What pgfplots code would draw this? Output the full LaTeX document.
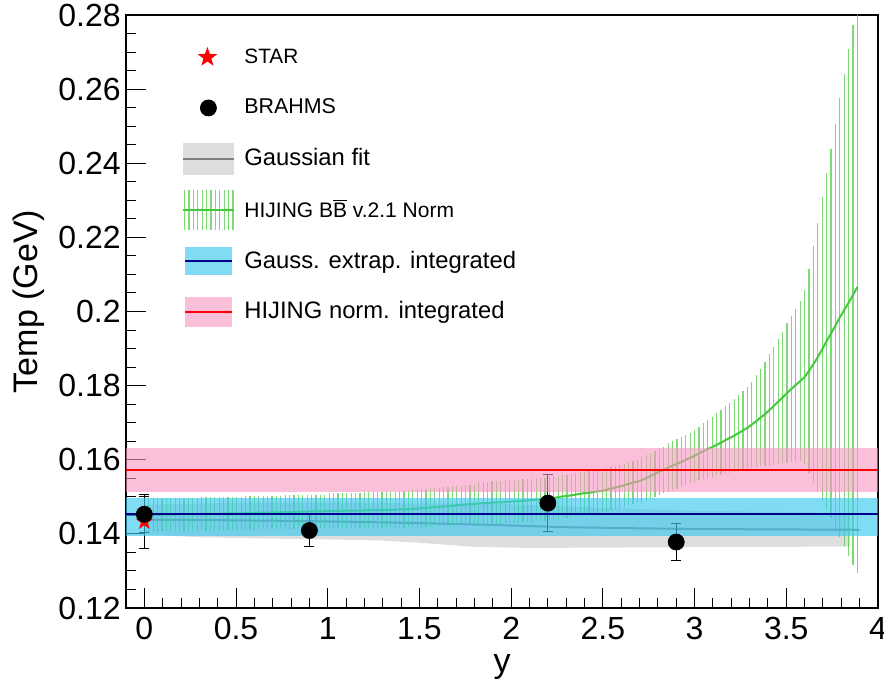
\documentclass[border=0pt]{standalone}
\usepackage{pgfplots}
\pgfplotsset{compat=1.18}
\usepackage{fontspec}
\setmainfont{Liberation Sans}
\usetikzlibrary{plotmarks}

\definecolor{gaussband}{RGB}{222,222,222}
\definecolor{gaussline}{RGB}{128,128,128}
\definecolor{hijgreen}{RGB}{70,200,60}
\definecolor{extrapfill}{RGB}{60,200,240}
\definecolor{extrapline}{RGB}{0,0,140}
\definecolor{normfill}{RGB}{248,150,192}
\definecolor{normline}{RGB}{255,0,0}

% filled five-point star (ROOT marker 29)
\pgfdeclareplotmark{fstar}{%
  \pgfpathmoveto{\pgfpointpolar{90}{\pgfplotmarksize}}%
  \pgfpathlineto{\pgfpointpolar{126}{0.4\pgfplotmarksize}}%
  \pgfpathlineto{\pgfpointpolar{162}{\pgfplotmarksize}}%
  \pgfpathlineto{\pgfpointpolar{198}{0.4\pgfplotmarksize}}%
  \pgfpathlineto{\pgfpointpolar{234}{\pgfplotmarksize}}%
  \pgfpathlineto{\pgfpointpolar{270}{0.4\pgfplotmarksize}}%
  \pgfpathlineto{\pgfpointpolar{306}{\pgfplotmarksize}}%
  \pgfpathlineto{\pgfpointpolar{342}{0.4\pgfplotmarksize}}%
  \pgfpathlineto{\pgfpointpolar{18}{\pgfplotmarksize}}%
  \pgfpathlineto{\pgfpointpolar{54}{0.4\pgfplotmarksize}}%
  \pgfpathclose\pgfusepathqfill}

\pgfplotstableread{
x y e
0.024 0.1451 0.0045
0.048 0.1451 0.0045
0.072 0.1451 0.0045
0.096 0.1452 0.0045
0.120 0.1452 0.0045
0.144 0.1452 0.0045
0.168 0.1452 0.0045
0.192 0.1453 0.0045
0.216 0.1453 0.0045
0.240 0.1453 0.0045
0.264 0.1453 0.0045
0.288 0.1453 0.0045
0.312 0.1454 0.0045
0.336 0.1454 0.0045
0.360 0.1454 0.0045
0.384 0.1454 0.0045
0.408 0.1454 0.0045
0.432 0.1455 0.0045
0.456 0.1455 0.0045
0.480 0.1455 0.0045
0.504 0.1455 0.0045
0.528 0.1455 0.0045
0.552 0.1456 0.0045
0.576 0.1456 0.0045
0.600 0.1456 0.0045
0.624 0.1457 0.0045
0.648 0.1457 0.0045
0.672 0.1457 0.0045
0.696 0.1458 0.0045
0.720 0.1458 0.0045
0.744 0.1458 0.0045
0.768 0.1459 0.0045
0.792 0.1459 0.0045
0.816 0.1459 0.0045
0.840 0.1460 0.0045
0.864 0.1460 0.0045
0.888 0.1460 0.0045
0.912 0.1461 0.0045
0.936 0.1461 0.0045
0.960 0.1461 0.0045
0.984 0.1461 0.0045
1.008 0.1462 0.0047
1.032 0.1462 0.0047
1.056 0.1462 0.0047
1.080 0.1462 0.0047
1.104 0.1463 0.0047
1.128 0.1463 0.0047
1.152 0.1463 0.0047
1.176 0.1463 0.0047
1.200 0.1463 0.0049
1.224 0.1464 0.0049
1.248 0.1464 0.0049
1.272 0.1464 0.0049
1.296 0.1464 0.0049
1.320 0.1465 0.0049
1.344 0.1465 0.0049
1.368 0.1465 0.0049
1.392 0.1466 0.0049
1.416 0.1466 0.0049
1.440 0.1467 0.0049
1.464 0.1467 0.0052
1.488 0.1468 0.0052
1.512 0.1469 0.0052
1.536 0.1470 0.0052
1.560 0.1471 0.0052
1.584 0.1472 0.0052
1.608 0.1473 0.0052
1.632 0.1474 0.0052
1.656 0.1475 0.0052
1.680 0.1476 0.0052
1.704 0.1477 0.0052
1.728 0.1478 0.0052
1.752 0.1479 0.0052
1.776 0.1480 0.0052
1.800 0.1481 0.0052
1.824 0.1482 0.0058
1.848 0.1483 0.0058
1.872 0.1483 0.0058
1.896 0.1484 0.0058
1.920 0.1485 0.0058
1.944 0.1485 0.0058
1.968 0.1486 0.0058
1.992 0.1487 0.0058
2.016 0.1488 0.0058
2.040 0.1488 0.0058
2.064 0.1489 0.0058
2.088 0.1490 0.0058
2.112 0.1491 0.0058
2.136 0.1492 0.0058
2.160 0.1493 0.0058
2.184 0.1494 0.0058
2.208 0.1496 0.0058
2.232 0.1497 0.0058
2.256 0.1499 0.0058
2.280 0.1501 0.0058
2.304 0.1502 0.0058
2.328 0.1504 0.0058
2.352 0.1506 0.0058
2.376 0.1508 0.0058
2.400 0.1510 0.0058
2.424 0.1511 0.0058
2.448 0.1513 0.0058
2.472 0.1515 0.0058
2.496 0.1516 0.0058
2.520 0.1519 0.0058
2.544 0.1522 0.0058
2.568 0.1525 0.0058
2.592 0.1528 0.0058
2.616 0.1531 0.0058
2.640 0.1535 0.0058
2.664 0.1538 0.0058
2.688 0.1541 0.0058
2.712 0.1545 0.0062
2.736 0.1550 0.0062
2.760 0.1556 0.0062
2.784 0.1562 0.0062
2.808 0.1568 0.0062
2.832 0.1573 0.0062
2.856 0.1579 0.0067
2.880 0.1584 0.0067
2.904 0.1589 0.0067
2.928 0.1594 0.0067
2.952 0.1600 0.0067
2.976 0.1605 0.0067
3.000 0.1611 0.0070
3.024 0.1617 0.0072
3.048 0.1623 0.0075
3.072 0.1629 0.0078
3.096 0.1634 0.0082
3.120 0.1640 0.0085
3.144 0.1646 0.0088
3.168 0.1653 0.0091
3.192 0.1659 0.0094
3.216 0.1665 0.0098
3.240 0.1672 0.0102
3.264 0.1679 0.0106
3.288 0.1686 0.0110
3.312 0.1695 0.0116
3.336 0.1704 0.0124
3.360 0.1714 0.0132
3.384 0.1723 0.0141
3.408 0.1734 0.0150
3.432 0.1745 0.0160
3.456 0.1757 0.0168
3.480 0.1768 0.0177
3.504 0.1780 0.0189
3.528 0.1791 0.0198
3.552 0.1802 0.0206
3.576 0.1812 0.0216
3.600 0.1823 0.0235
3.624 0.1840 0.0275
3.648 0.1858 0.0320
3.672 0.1877 0.0362
3.696 0.1898 0.0410
3.720 0.1920 0.0455
3.744 0.1941 0.0498
3.768 0.1962 0.0545
3.792 0.1984 0.0592
3.816 0.2004 0.0638
3.840 0.2024 0.0683
3.864 0.2045 0.0728
3.888 0.2066 0.0772
}\hijing

\begin{document}
\begin{tikzpicture}
\useasboundingbox (-63pt,-38pt) rectangle (379pt,304pt);
\begin{axis}[
  scale only axis, width=376pt, height=296.5pt,
  xmin=-0.1, xmax=4, ymin=0.12, ymax=0.28,
  xtick={0,0.5,...,4},
  ytick={0.12,0.14,0.16,0.18,0.2,0.22,0.24,0.26,0.28},
  minor x tick num=4, minor y tick num=3,
  tick align=inside, tick pos=left,
  major tick length=10pt, minor tick length=5pt,
  scaled ticks=false,
  /pgf/number format/assume math mode=true,
  ticklabel style={font=\fontsize{16}{16}\selectfont},
  yticklabel style={inner sep=0pt, xshift=-2.5pt},
  xticklabel style={inner sep=0pt, yshift=-4.5pt},
  xlabel={y}, ylabel={Temp (GeV)},
  label style={font=\fontsize{17}{17}\selectfont},
  xlabel style={at={(axis description cs:0.5,-0.108)}, anchor=base},
  ylabel style={at={(axis description cs:-0.13,0.517)}, anchor=center},
  axis line style={line width=0.6pt},
  every tick/.style={black, line width=0.5pt},
  legend cell align=left,
  legend style={at={(axis description cs:0.0745,0.963)}, anchor=north west,
    draw=none, fill=none, inner sep=0pt, row sep=5.3pt,
    font=\fontsize{11.9}{13}\selectfont},
]
% legend entries
\addlegendimage{legend image code/.code={
  \path[draw=none] (0pt,-10pt) rectangle (28pt,10pt);
  \draw[only marks, mark=fstar, mark size=5.2pt, red] plot coordinates {(12pt,0pt)};}}
\addlegendentry{\fontsize{10.4}{12}\selectfont STAR}
\addlegendimage{legend image code/.code={
  \path[draw=none] (0pt,-10pt) rectangle (28pt,10pt);
  \draw[only marks, mark=*, mark size=4pt, black] plot coordinates {(12.5pt,0pt)};}}
\addlegendentry{\fontsize{10.7}{12}\selectfont BRAHMS}
\addlegendimage{legend image code/.code={
  \path[draw=none] (0pt,-10pt) rectangle (27pt,10pt);
  \fill[gaussband, draw=none] (0pt,-8pt) rectangle (25.5pt,8pt);
  \draw[gaussline, line width=1pt] (0pt,0pt) -- (25.5pt,0pt);}}
\addlegendentry{Gaussian fit}
\addlegendimage{legend image code/.code={
  \path[draw=none] (0pt,-10pt) rectangle (28pt,10pt);
  \foreach \i in {0,...,11}
    \draw[hijgreen, opacity=0.7, line width=0.6pt] (0.6pt+\i*2.2pt,-10pt) -- ++(0pt,20pt);
  \draw[hijgreen, line width=1pt] (0pt,0pt) -- (25.5pt,0pt);}}
\addlegendentry{\fontsize{10.5}{12}\selectfont HIJING B$\overline{\mbox{B}}$ v.2.1 Norm}
\addlegendimage{legend image code/.code={
  \path[draw=none] (0pt,-10pt) rectangle (28.5pt,10pt);
  \fill[extrapfill, opacity=0.65, draw=none] (1pt,-7pt) rectangle (24.5pt,7pt);
  \draw[extrapline, line width=1pt] (1pt,0pt) -- (24.5pt,0pt);}}
\addlegendentry{Gauss. extrap. integrated}
\addlegendimage{legend image code/.code={
  \path[draw=none] (0pt,-10pt) rectangle (28.5pt,10pt);
  \fill[normfill, opacity=0.6, draw=none] (1pt,-7.5pt) rectangle (24.5pt,7.5pt);
  \draw[normline, line width=1pt] (1pt,0pt) -- (24.5pt,0pt);}}
\addlegendentry{HIJING norm. integrated}

% Gaussian fit band and line
\addplot[forget plot, draw=none, fill=gaussband] coordinates {
  (0,0.1478)(0.5,0.1484)(1.0,0.1485)(1.5,0.1482)(1.8,0.1482)(2.1,0.1478)
  (2.5,0.1470)(3.0,0.1462)(3.5,0.1459)(3.85,0.1456)
  (3.85,0.1366)(3.5,0.1365)(3.0,0.1364)(2.5,0.1363)(2.1,0.1362)(1.8,0.1365)
  (1.5,0.1376)(1.3,0.1382)(1.0,0.1385)(0.6,0.1388)(0.3,0.1391)(0,0.1398)} -- cycle;
\addplot[forget plot, gaussline, line width=1pt] coordinates {
  (0,0.1438)(0.4,0.1437)(0.8,0.1435)(1.2,0.1432)(1.5,0.1429)(1.9,0.1424)
  (2.3,0.1418)(2.7,0.1415)(3.0,0.1413)(3.5,0.1412)(3.9,0.1411)};

% HIJING normalised, with error bars
\addplot[forget plot, hijgreen, line width=1pt, no marks,
  error bars/.cd, y dir=both, y explicit, error mark=none,
  error bar style={hijgreen, opacity=0.7, line width=0.6pt}]
  table[x=x, y=y, y error=e] {\hijing};

% STAR and BRAHMS points
\addplot[forget plot, only marks, mark=fstar, mark size=4.5pt, red,
  error bars/.cd, y dir=both, y explicit, error mark=-,
  error mark options={rotate=90, mark size=2.5pt, black, line width=0.5pt},
  error bar style={black, line width=0.5pt}]
  coordinates {(0,0.1433) +- (0,0.0073)};
\addplot[forget plot, only marks, mark=*, mark size=4pt, black,
  error bars/.cd, y dir=both, y explicit, error mark=-,
  error mark options={rotate=90, mark size=2.5pt, black, line width=0.5pt},
  error bar style={black, line width=0.5pt}]
  coordinates {
  (0,0.1453) +- (0,0.0048)
  (0.9,0.1409) +- (0,0.0043)
  (2.2,0.1483) +- (0,0.0077)
  (2.9,0.1378) +- (0,0.0050)};

% integrated bands
\addplot[forget plot, draw=none, fill=extrapfill, fill opacity=0.65] coordinates {
  (-0.1,0.1395)(4,0.1395)(4,0.1498)(-0.1,0.1498)} -- cycle;
\addplot[forget plot, draw=none, fill=normfill, fill opacity=0.6] coordinates {
  (-0.1,0.1512)(4,0.1512)(4,0.1631)(-0.1,0.1631)} -- cycle;
\addplot[forget plot, extrapline, line width=1pt] coordinates {(-0.1,0.1453)(4,0.1453)};
\addplot[forget plot, normline, line width=1pt] coordinates {(-0.1,0.1573)(4,0.1573)};
\end{axis}
\end{tikzpicture}
\end{document}
